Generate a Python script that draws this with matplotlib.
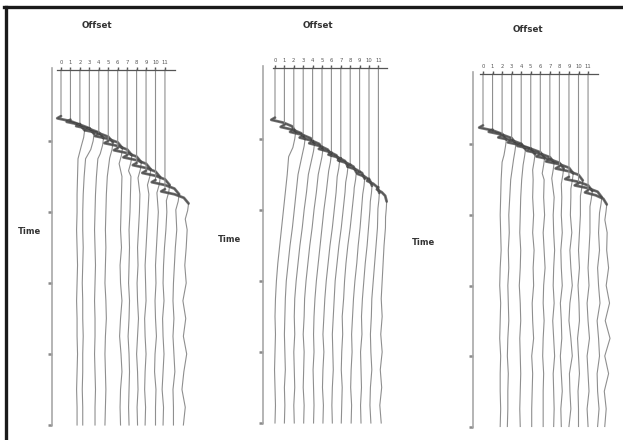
import numpy as np
import matplotlib
matplotlib.use("Agg")
import matplotlib.pyplot as plt
from matplotlib.lines import Line2D

# ---------------- data ----------------
TRACES = list(range(12))                      # trace (offset) index
TICK_LABELS = [str(i) for i in range(12)]
TIME_TICKS = [100, 200, 300, 400, 500]        # ms
TAIL_T = [100, 125, 150, 175, 200, 225, 250, 275, 300, 325, 350, 375, 400, 425, 450, 475, 500]
LAGS = [0, 3, 7, 12, 20, 30, 42]              # ms after first arrival

# panel 1
P1_ARRIVAL = [65, 70, 76, 82, 90, 100, 110, 120, 131, 142, 155, 168]
P1_AMP = [1.0] * 12
P1_SHAPE = [0, -0.4, 1.0, 2.0, 2.5, 2.4, 2.15]
P1_TAIL = [
    [1.9, 1.8, 1.75, 1.7, 1.7, 1.65, 1.7, 1.75, 1.7, 1.65, 1.7, 1.7, 1.75, 1.7, 1.65, 1.7, 1.7],
    [1.8, 1.6, 1.45, 1.35, 1.3, 1.3, 1.35, 1.3, 1.25, 1.3, 1.3, 1.35, 1.3, 1.3, 1.25, 1.3, 1.3],
    [2.0, 1.9, 1.75, 1.65, 1.6, 1.55, 1.6, 1.65, 1.6, 1.55, 1.6, 1.6, 1.55, 1.6, 1.65, 1.6, 1.6],
    [2.1, 2.0, 1.9, 1.8, 1.75, 1.7, 1.75, 1.7, 1.65, 1.75, 1.8, 1.7, 1.65, 1.7, 1.75, 1.7, 1.65],
    [2.5, 2.5, 2.45, 2.4, 2.35, 2.3, 2.4, 2.25, 2.3, 2.45, 2.3, 2.2, 2.35, 2.45, 2.3, 2.25, 2.3],
    [2.4, 2.4, 2.4, 2.35, 2.3, 2.2, 2.25, 2.2, 2.15, 2.25, 2.2, 2.1, 2.2, 2.25, 2.2, 2.15, 2.2],
    [2.4, 2.4, 2.4, 2.35, 2.3, 2.2, 2.1, 2.15, 2.05, 2.1, 2.2, 2.1, 2.0, 2.1, 2.15, 2.05, 2.1],
    [2.3, 2.3, 2.3, 2.3, 2.2, 2.1, 2.0, 1.9, 1.95, 2.0, 1.85, 1.9, 2.0, 1.9, 1.85, 1.95, 1.9],
    [2.4, 2.4, 2.4, 2.4, 2.3, 2.2, 2.1, 2.0, 2.05, 1.95, 2.0, 2.1, 1.95, 1.9, 2.05, 2.0, 2.0],
    [2.2, 2.2, 2.2, 2.2, 2.2, 2.1, 1.95, 1.85, 1.8, 1.9, 1.75, 1.8, 1.9, 1.8, 1.7, 1.85, 1.8],
    [2.3, 2.3, 2.3, 2.3, 2.3, 2.25, 2.1, 2.0, 1.9, 1.85, 1.95, 1.85, 1.95, 2.05, 1.85, 1.9, 1.9],
    [2.4, 2.4, 2.4, 2.4, 2.4, 2.35, 2.25, 2.1, 2.25, 1.9, 2.2, 1.95, 2.3, 2.0, 1.8, 2.15, 1.95],
]

# panel 2
P2_ARRIVAL = [70, 80, 87, 95, 103, 111, 119, 127, 136, 146, 156, 168]
P2_AMP = [1.0, 1.0, 1.0, 0.95, 0.9, 0.85, 0.8, 0.75, 0.7, 0.6, 0.5, 0.4]
P2_SHAPE = [0, -0.4, 0.9, 1.8, 2.2, 2.1, 1.9]
P2_TAIL = [
    [1.6, 1.45, 1.3, 1.1, 0.9, 0.7, 0.5, 0.3, 0.15, 0.05, 0.0, 0.05, 0.0, -0.05, 0.0, 0.05, 0.0],
    [1.8, 1.6, 1.45, 1.25, 1.05, 0.85, 0.6, 0.4, 0.2, 0.1, 0.05, 0.0, 0.05, 0.1, 0.0, 0.05, 0.0],
    [1.9, 1.7, 1.55, 1.35, 1.1, 0.9, 0.65, 0.45, 0.25, 0.1, 0.05, 0.1, 0.0, 0.05, 0.1, 0.0, 0.05],
    [1.9, 1.8, 1.6, 1.4, 1.15, 0.95, 0.7, 0.5, 0.3, 0.15, 0.1, 0.0, 0.1, 0.05, 0.0, 0.1, 0.05],
    [1.9, 1.8, 1.65, 1.45, 1.2, 1.0, 0.8, 0.6, 0.4, 0.25, 0.15, 0.1, 0.15, 0.05, 0.1, 0.15, 0.1],
    [1.8, 1.8, 1.65, 1.5, 1.3, 1.1, 0.85, 0.65, 0.45, 0.3, 0.2, 0.1, 0.2, 0.1, 0.05, 0.15, 0.1],
    [1.7, 1.7, 1.6, 1.45, 1.25, 1.05, 0.8, 0.6, 0.4, 0.3, 0.2, 0.1, 0.15, 0.2, 0.1, 0.05, 0.1],
    [1.6, 1.6, 1.55, 1.4, 1.2, 1.0, 0.75, 0.55, 0.4, 0.3, 0.15, 0.2, 0.1, 0.05, 0.15, 0.1, 0.05],
    [1.5, 1.5, 1.5, 1.4, 1.2, 1.05, 0.85, 0.7, 0.5, 0.35, 0.25, 0.15, 0.2, 0.1, 0.05, 0.15, 0.1],
    [1.3, 1.3, 1.3, 1.25, 1.1, 0.95, 0.8, 0.6, 0.45, 0.3, 0.2, 0.25, 0.1, 0.15, 0.2, 0.1, 0.15],
    [1.1, 1.1, 1.1, 1.1, 1.0, 0.9, 0.75, 0.6, 0.45, 0.3, 0.25, 0.15, 0.2, 0.3, 0.15, 0.1, 0.2],
    [0.9, 0.9, 0.9, 0.9, 0.85, 0.75, 0.6, 0.5, 0.4, 0.3, 0.4, 0.25, 0.4, 0.2, 0.35, 0.15, 0.3],
]

# panel 3
P3_ARRIVAL = [73, 79, 87, 94, 99, 106, 114, 121, 131, 146, 155, 165]
P3_AMP = [1.0] * 11 + [0.8]
P3_SHAPE = [0, -0.4, 1.0, 2.0, 2.45, 2.35, 2.2]
P3_TAIL = [
    [2.1, 2.0, 1.9, 1.85, 1.8, 1.85, 1.9, 1.8, 1.75, 1.85, 1.8, 1.75, 1.85, 1.8, 1.8, 1.85, 1.8],
    [2.1, 2.0, 1.9, 1.8, 1.7, 1.75, 1.65, 1.7, 1.6, 1.65, 1.7, 1.6, 1.55, 1.65, 1.6, 1.6, 1.55],
    [2.2, 2.15, 2.05, 1.95, 1.9, 1.85, 1.95, 1.9, 1.8, 1.9, 1.95, 1.85, 1.9, 1.95, 1.9, 1.85, 1.9],
    [2.3, 2.3, 2.25, 2.2, 2.3, 2.2, 2.35, 2.25, 2.3, 2.15, 2.2, 2.3, 2.1, 2.2, 2.15, 2.1, 2.1],
    [2.4, 2.4, 2.4, 2.35, 2.45, 2.3, 2.4, 2.5, 2.35, 2.3, 2.4, 2.3, 2.25, 2.35, 2.3, 2.3, 2.3],
    [2.4, 2.4, 2.4, 2.45, 2.35, 2.4, 2.5, 2.4, 2.35, 2.45, 2.3, 2.4, 2.5, 2.35, 2.4, 2.45, 2.4],
    [2.3, 2.3, 2.3, 2.25, 2.2, 2.3, 2.15, 2.2, 2.3, 2.1, 2.2, 2.25, 2.1, 2.2, 2.3, 2.15, 2.2],
    [2.2, 2.2, 2.2, 2.2, 2.15, 2.3, 2.1, 2.2, 2.35, 2.1, 2.0, 2.2, 2.35, 2.05, 2.1, 2.2, 2.0],
    [2.2, 2.2, 2.2, 2.2, 2.2, 2.1, 2.0, 2.1, 1.95, 2.05, 2.1, 1.9, 2.0, 2.1, 1.95, 2.0, 2.0],
    [2.2, 2.2, 2.2, 2.2, 2.2, 2.2, 2.1, 2.0, 2.1, 1.9, 2.0, 2.15, 1.9, 2.0, 2.1, 1.9, 2.0],
    [2.1, 2.1, 2.1, 2.1, 2.1, 2.1, 2.2, 2.0, 2.1, 2.25, 1.95, 2.1, 2.2, 1.95, 2.0, 2.15, 2.0],
    [2.0, 2.0, 2.0, 2.0, 2.0, 2.0, 1.95, 2.15, 1.9, 2.25, 1.8, 2.3, 1.75, 2.15, 1.7, 1.9, 1.75],
]

PANELS = [
    dict(arr=P1_ARRIVAL, amp=P1_AMP, shape=P1_SHAPE, tail=P1_TAIL),
    dict(arr=P2_ARRIVAL, amp=P2_AMP, shape=P2_SHAPE, tail=P2_TAIL),
    dict(arr=P3_ARRIVAL, amp=P3_AMP, shape=P3_SHAPE, tail=P3_TAIL),
]

# ---------------- layout (pixel geometry of each panel) ----------------
W, H = 623, 440
LAYOUT = [
    dict(box=(30, 45, 218, 436), x0=61, dx=9.45, y0=70, sy=0.71, tax=52, top=(-0.45, 12.05),
         title=(97, 25), tlabel=(30, 232)),
    dict(box=(240, 45, 428, 436), x0=275, dx=9.4, y0=68, sy=0.71, tax=263, top=(-0.2, 11.95),
         title=(318, 25), tlabel=(229, 240)),
    dict(box=(450, 45, 622, 436), x0=483, dx=9.55, y0=74, sy=0.705, tax=473, top=(-0.3, 12.0),
         title=(528, 30), tlabel=(424, 242)),
]

fig = plt.figure(figsize=(W / 100, H / 100), dpi=100)
fig.patch.set_facecolor("white")

# frame lines (top and left)
fig.add_artist(Line2D([4 / W, 1.0], [1 - 7 / H, 1 - 7 / H], transform=fig.transFigure,
                      color="#1a1a1a", lw=2.4))
fig.add_artist(Line2D([6 / W, 6 / W], [0.0, 1 - 7 / H], transform=fig.transFigure,
                      color="#1a1a1a", lw=2.4))

TRACE_C = "#8f8f8f"
BAND_C = "#3a3a3a"

for P, L in zip(PANELS, LAYOUT):
    l, t, r, b = L["box"]
    ax = fig.add_axes([l / W, 1 - b / H, (r - l) / W, (b - t) / H])
    ax.set_facecolor("none")
    ax.set_xlim((l - L["x0"]) / L["dx"], (r - L["x0"]) / L["dx"])
    ax.set_ylim((b - L["y0"]) / L["sy"], (t - L["y0"]) / L["sy"])

    for i in TRACES:
        ta = P["arr"][i]
        a = P["amp"][i]
        ts = [0, ta] + [ta + g for g in LAGS[1:]]
        ds = [0, 0] + [a * s for s in P["shape"][1:]]
        wav_t = ts[1:6]
        wav_d = ds[1:6]
        for tt, v in zip(TAIL_T, P["tail"][i]):
            if tt > ta + LAGS[-1] + 5:
                ts.append(tt)
                ds.append(v)
        ax.plot(i + np.array(ds), ts, color=TRACE_C, lw=0.8, solid_joinstyle="round")
        ax.plot(i + np.array(wav_d), wav_t, color=BAND_C, lw=2.0, alpha=0.7,
                solid_capstyle="round", solid_joinstyle="round")

    # spines as axes of the section
    for s in ("right", "bottom"):
        ax.spines[s].set_visible(False)
    ax.spines["left"].set_position(("data", (L["tax"] - L["x0"]) / L["dx"]))
    ax.spines["left"].set_bounds(-3, 500)
    ax.spines["left"].set_color("#a8a8a8")
    ax.spines["left"].set_linewidth(1.2)
    ax.spines["top"].set_position(("data", 0))
    ax.spines["top"].set_bounds(*L["top"])
    ax.spines["top"].set_color("#555555")
    ax.spines["top"].set_linewidth(0.9)

    ax.set_yticks(TIME_TICKS)
    ax.set_yticklabels([])
    ax.tick_params(axis="y", direction="out", length=3, width=1.8, colors="#8a8a8a")
    ax.xaxis.set_ticks_position("top")
    ax.set_xticks(TRACES)
    ax.set_xticklabels(TICK_LABELS, fontsize=3.8, color="#444444")
    ax.tick_params(axis="x", direction="out", length=2.5, width=1.0, colors="#555555", pad=0.8)

    fig.text(L["title"][0] / W, 1 - L["title"][1] / H, "Offset", ha="center", va="center",
             fontsize=6.3, fontweight="bold", color="#333333")
    fig.text(L["tlabel"][0] / W, 1 - L["tlabel"][1] / H, "Time", ha="center", va="center",
             fontsize=6.0, fontweight="bold", color="#333333")

fig.savefig("out.png", dpi=100, facecolor="white")
